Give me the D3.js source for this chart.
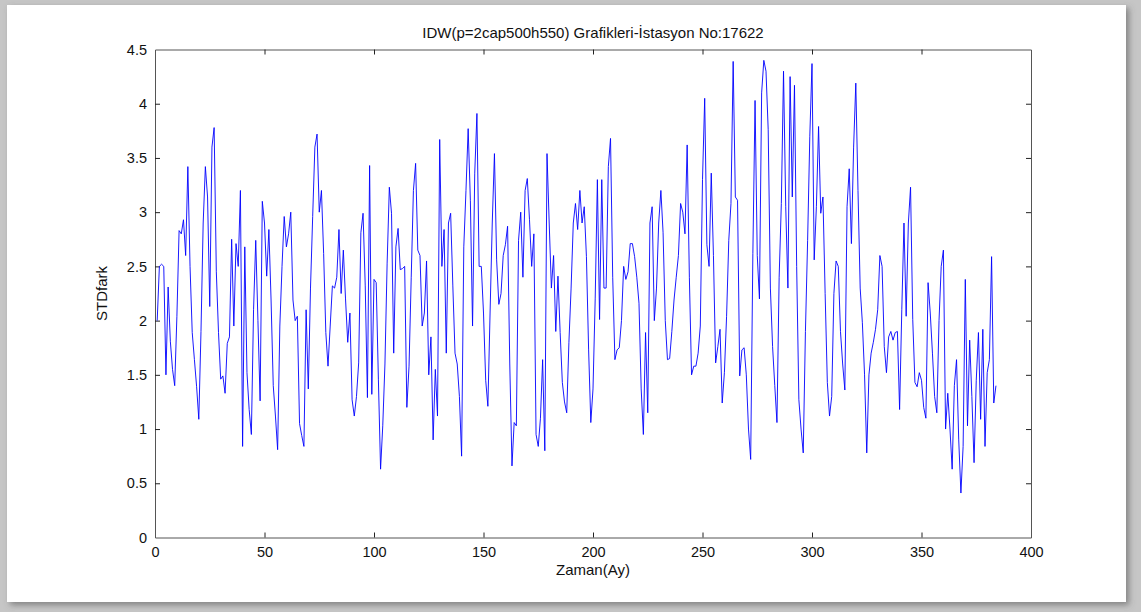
<!DOCTYPE html>
<html>
<head>
<meta charset="utf-8">
<script src="https://cdn.jsdelivr.net/npm/d3@7"></script>
<style>
    html, body { margin: 0; padding: 0; background: #c4c4c4; }
    svg { display: block; }
</style>
</head>
<body>
<script>
// Chart texts
const titleText = "IDW(p=2cap500h550) Grafikleri-İstasyon No:17622";
const xLabelText = "Zaman(Ay)";
const yLabelText = "STDfark";

// Tick values
const xTicks = [0, 50, 100, 150, 200, 250, 300, 350, 400];
const yTicks = [0, 0.5, 1, 1.5, 2, 2.5, 3, 3.5, 4, 4.5];

// Monthly STD difference values (month 1..384)
const stdValues = [
    2.0, 2.5, 2.52, 2.5, 1.5, 2.31, 1.81, 1.55, 1.4, 2.04,
    2.83, 2.8, 2.93, 2.6, 3.42, 2.5, 1.89, 1.64, 1.39, 1.09,
    1.9, 2.9, 3.42, 3.14, 2.13, 3.6, 3.78, 2.45, 1.89, 1.46,
    1.49, 1.33, 1.79, 1.85, 2.75, 1.95, 2.71, 2.5, 3.2, 0.84,
    2.68, 1.52, 1.18, 0.95, 2.1, 2.74, 2.0, 1.26, 3.1, 2.9,
    2.41, 2.84, 2.19, 1.4, 1.12, 0.81, 1.95, 2.5, 2.96, 2.68,
    2.8, 3.0, 2.19, 2.0, 2.04, 1.05, 0.94, 0.84, 2.1, 1.37,
    2.3, 2.96, 3.6, 3.72, 3.0, 3.2, 2.62, 1.89, 1.58, 1.95,
    2.32, 2.3, 2.4, 2.84, 2.25, 2.65, 2.2, 1.8, 2.07, 1.27,
    1.12, 1.3, 1.61, 2.81, 2.99, 2.32, 1.29, 3.43, 1.32, 2.38,
    2.35, 1.46, 0.63, 1.03, 1.6, 2.53, 3.23, 2.99, 1.7, 2.68,
    2.85, 2.47, 2.48, 2.5, 1.2, 1.58, 2.4, 3.2, 3.45, 2.65,
    2.6, 1.95, 2.07, 2.55, 1.5, 1.85, 0.9, 1.55, 1.12, 3.67,
    2.5, 2.84, 1.7, 2.9, 2.99, 2.32, 1.7, 1.6, 1.3, 0.75,
    2.68, 3.2, 3.77, 3.11, 1.95, 3.36, 3.91, 2.5, 2.5, 2.07,
    1.45, 1.21, 2.07, 2.9, 3.54, 2.56, 2.15, 2.25, 2.6, 2.7,
    2.87, 1.6, 0.66, 1.06, 1.03, 2.74, 3.0, 2.4, 3.2, 3.31,
    2.93, 2.5, 2.8, 0.95, 0.84, 1.1, 1.64, 0.8, 3.54, 2.9,
    2.3, 2.6, 1.9, 2.41, 1.89, 1.43, 1.25, 1.15, 1.8, 2.3,
    2.9, 3.08, 2.84, 3.2, 2.9, 3.05, 2.59, 1.73, 1.06, 1.37,
    2.2, 3.3, 2.01, 3.3, 2.3, 2.3, 3.42, 3.68, 2.4, 1.64,
    1.73, 1.75, 2.0, 2.5, 2.38, 2.45, 2.71, 2.71, 2.59, 2.4,
    2.16, 1.37, 0.95, 1.89, 1.15, 2.9, 3.05, 2.0, 2.3, 2.9,
    3.2, 2.81, 2.0, 1.64, 1.65, 1.9, 2.19, 2.4, 2.6, 3.08,
    3.0, 2.8, 3.62, 2.4, 1.5, 1.58, 1.58, 1.7, 1.95, 3.3,
    4.05, 2.7, 2.5, 3.36, 2.6, 1.61, 1.76, 1.92, 1.24, 1.52,
    2.04, 2.74, 3.08, 4.39, 3.14, 3.11, 1.49, 1.73, 1.75, 1.5,
    1.0, 0.72, 2.62, 4.03, 2.6, 2.2, 4.1, 4.4, 4.3, 3.76,
    2.3, 1.76, 1.4, 1.06, 2.4, 3.08, 4.3, 3.05, 2.3, 4.25,
    3.14, 4.17, 2.5, 1.27, 1.0, 0.78, 1.9, 2.74, 3.7, 4.37,
    2.56, 3.05, 3.79, 2.99, 3.14, 2.25, 1.43, 1.12, 1.3, 2.25,
    2.55, 2.5, 1.9, 1.6, 1.36, 3.05, 3.4, 2.71, 3.6, 4.19,
    3.2, 2.3, 1.98, 1.5, 0.78, 1.5, 1.7, 1.8, 1.92, 2.1,
    2.6, 2.5, 1.76, 1.52, 1.85, 1.9, 1.82, 1.89, 1.9, 1.18,
    2.1, 2.9, 2.04, 2.9, 3.23, 2.01, 1.43, 1.39, 1.52, 1.45,
    1.2, 1.1, 2.35, 2.07, 1.7, 1.3, 1.15, 2.0, 2.5, 2.65,
    1.0, 1.33, 1.0, 0.63, 1.4, 1.64, 0.9, 0.41, 0.84, 2.38,
    1.03, 1.82, 1.3, 0.69, 1.45, 1.89, 1.09, 1.92, 0.84, 1.52,
    1.64, 2.59, 1.24, 1.4
];

const width = 1141;
const height = 612;
const margin = { top: 49.5, right: 110, bottom: 74.5, left: 155 };
const innerWidth = width - margin.left - margin.right;
const innerHeight = height - margin.top - margin.bottom;

const svg = d3.select("body")
    .append("svg")
    .attr("width", width)
    .attr("height", height);

// Shadow for the white sheet
const defs = svg.append("defs");
const shadow = defs.append("filter")
    .attr("id", "shadow")
    .attr("x", "-5%").attr("y", "-5%")
    .attr("width", "110%").attr("height", "110%");
shadow.append("feDropShadow")
    .attr("dx", 3).attr("dy", 3)
    .attr("stdDeviation", 3)
    .attr("flood-color", "#555")
    .attr("flood-opacity", 0.6);

// Gray frame and the white sheet
svg.append("rect")
    .attr("width", width).attr("height", height)
    .attr("fill", "#c6c6c6");
svg.append("rect")
    .attr("x", 7).attr("y", 5)
    .attr("width", 1119).attr("height", 597)
    .attr("fill", "white")
    .attr("filter", "url(#shadow)");

const g = svg.append("g")
    .attr("transform", `translate(${margin.left},${margin.top})`);

// Scales
const xScale = d3.scaleLinear()
    .domain([0, 400])
    .range([0, innerWidth]);

const yScale = d3.scaleLinear()
    .domain([0, 4.5])
    .range([innerHeight, 0]);

const font = "'Liberation Sans', Arial, Helvetica, sans-serif";

// Axes, MATLAB style: ticks pointing inward on all four sides
const bottomAxis = g.append("g")
    .attr("transform", `translate(0,${innerHeight})`)
    .call(d3.axisBottom(xScale).tickValues(xTicks).tickSizeInner(-5).tickSizeOuter(0).tickPadding(9));
const topAxis = g.append("g")
    .call(d3.axisTop(xScale).tickValues(xTicks).tickSizeInner(-5).tickSizeOuter(0));
const leftAxis = g.append("g")
    .call(d3.axisLeft(yScale).tickValues(yTicks).tickSizeInner(-5).tickSizeOuter(0).tickPadding(8)
        .tickFormat(d => d3.format("")(d)));
const rightAxis = g.append("g")
    .attr("transform", `translate(${innerWidth},0)`)
    .call(d3.axisRight(yScale).tickValues(yTicks).tickSizeInner(-5).tickSizeOuter(0));

// top and right sides carry ticks only
topAxis.selectAll("text").remove();
rightAxis.selectAll("text").remove();

[bottomAxis, topAxis, leftAxis, rightAxis].forEach(a => {
    a.select(".domain").attr("stroke", "#555");
    a.selectAll(".tick line").attr("stroke", "#222");
    a.selectAll("text")
        .attr("fill", "#111")
        .style("font-family", font)
        .style("font-size", "14.5px");
});

// Hide the end ticks that sit on the box corners
bottomAxis.selectAll(".tick line").filter(d => d === 0 || d === 400).remove();
topAxis.selectAll(".tick line").filter(d => d === 0 || d === 400).remove();
leftAxis.selectAll(".tick line").filter(d => d === 0 || d === 4.5).remove();
rightAxis.selectAll(".tick line").filter(d => d === 0 || d === 4.5).remove();

// Data line
const line = d3.line()
    .x((d, i) => xScale(i + 1))
    .y(d => yScale(d));

g.append("path")
    .datum(stdValues)
    .attr("fill", "none")
    .attr("stroke", "#0000ff")
    .attr("stroke-width", 0.9)
    .attr("d", line);

// Title and axis labels
svg.append("text")
    .attr("x", margin.left + innerWidth / 2)
    .attr("y", 38)
    .attr("text-anchor", "middle")
    .style("font-family", font)
    .style("font-size", "15px")
    .attr("fill", "#111")
    .text(titleText);

svg.append("text")
    .attr("x", margin.left + innerWidth / 2)
    .attr("y", 575)
    .attr("text-anchor", "middle")
    .style("font-family", font)
    .style("font-size", "15px")
    .attr("fill", "#111")
    .text(xLabelText);

svg.append("text")
    .attr("transform", `translate(107,${margin.top + innerHeight / 2}) rotate(-90)`)
    .attr("text-anchor", "middle")
    .style("font-family", "'Liberation Sans Narrow', " + font)
    .style("font-size", "15px")
    .attr("fill", "#111")
    .text(yLabelText);
</script>
</body>
</html>
